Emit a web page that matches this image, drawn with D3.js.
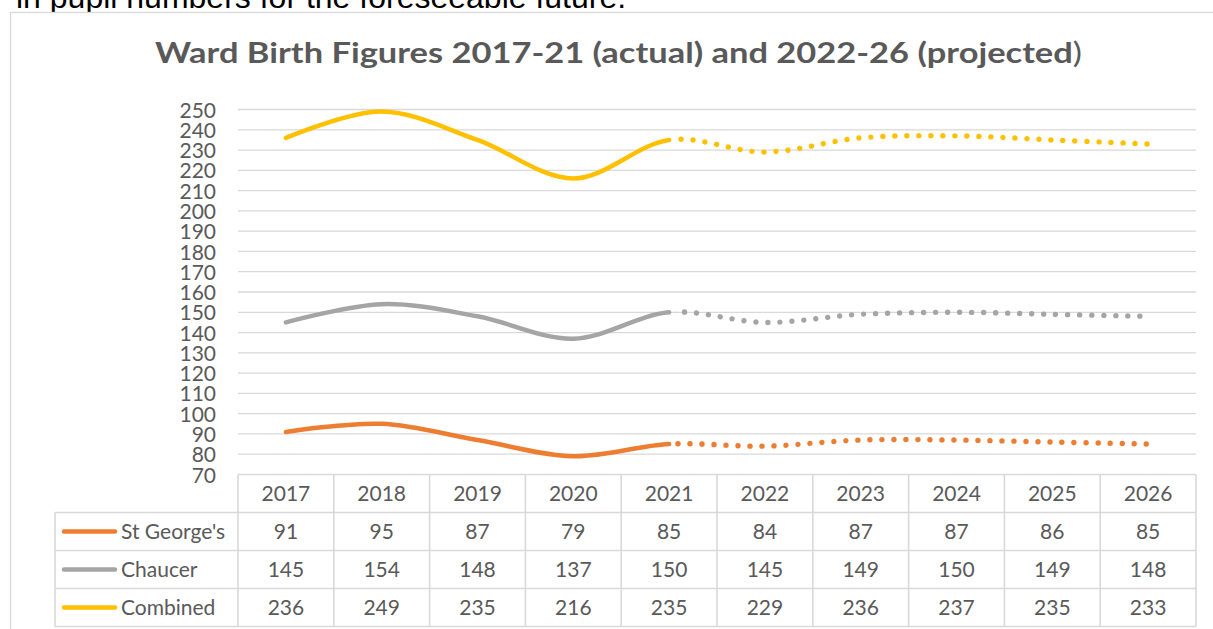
<!DOCTYPE html>
<html><head><meta charset="utf-8">
<script src="https://cdn.jsdelivr.net/npm/d3@7"></script>
<style>body{margin:0;background:#fff;overflow:hidden}</style>
</head><body>
<svg id="c" width="1213" height="629"></svg>
<script>
const years = [2017,2018,2019,2020,2021,2022,2023,2024,2025,2026];
const stGeorges = [91,95,87,79,85,84,87,87,86,85];
const chaucer = [145,154,148,137,150,145,149,150,149,148];
const combined = [236,249,235,216,235,229,236,237,235,233];
const seriesNames = ["St George's","Chaucer","Combined"];
const seriesColors = ["#ED7D31","#A5A5A5","#FFC000"];
const yTicks = d3.range(70,251,10);
const lastActualYear = 2021;
const series = [stGeorges, chaucer, combined];

const svg = d3.select("#c");
const font = "Lato, 'Open Sans', sans-serif";
const textCol = "#595959";
const gridCol = "#d9d9d9";

// top page text (cut)
svg.append("text").attr("x",16).attr("y",7.5).attr("font-family","'Liberation Sans', Arial, sans-serif")
  .attr("font-size",32).attr("fill","#000").text("in pupil numbers for the foreseeable future.");

// chart border
svg.append("rect").attr("x",10.5).attr("y",12.5).attr("width",1220).attr("height",640)
  .attr("fill","#fff").attr("stroke",gridCol).attr("stroke-width",1.3);

// title
const title = svg.append("text").attr("x",155).attr("y",63)
  .attr("font-family",font).attr("font-size",29).attr("fill",textCol)
  .attr("textLength",927).attr("lengthAdjust","spacingAndGlyphs");
title.append("tspan").attr("font-weight","bold").text("Ward Birth Figures 2017-21 (actual) and 2022-26 (projected");
title.append("tspan").text(")");

const x0 = 238, x1 = 1196;
const x = d3.scaleBand().domain(years).range([x0,x1]);
const y = d3.scaleLinear().domain([70,250]).range([474.5,109.5]);

// gridlines
svg.append("g").selectAll("line").data(yTicks.filter(t=>t>70)).join("line")
  .attr("x1",x0).attr("x2",x1).attr("y1",d=>y(d)).attr("y2",d=>y(d))
  .attr("stroke",gridCol).attr("stroke-width",1.3);

// y axis labels
const yAxis = d3.axisLeft(y).tickValues(yTicks).tickSize(0).tickPadding(0);
const ga = svg.append("g").attr("transform","translate(216,0)").call(yAxis);
ga.select(".domain").remove();
ga.selectAll("text").attr("font-family",font).attr("font-size",21).attr("fill",textCol).attr("dy","0.36em");

// lines
const cx = d=>x(d)+x.bandwidth()/2;
const line = d3.line().x((d,i)=>cx(years[i])).y(d=>y(d)).curve(d3.curveCatmullRom.alpha(0));
const splitX = cx(lastActualYear);
const defs = svg.append("defs");
defs.append("clipPath").attr("id","clipA").append("rect").attr("x",0).attr("y",0).attr("width",splitX).attr("height",629);
defs.append("clipPath").attr("id","clipP").append("rect").attr("x",splitX+6).attr("y",0).attr("width",1213).attr("height",629);

series.forEach((s,k)=>{
  svg.append("path").attr("d",line(s)).attr("fill","none").attr("stroke",seriesColors[k])
    .attr("stroke-width",4.5).attr("stroke-linecap","round").attr("clip-path","url(#clipA)");
  svg.append("path").attr("d",line(s)).attr("fill","none").attr("stroke",seriesColors[k])
    .attr("stroke-width",5.4).attr("stroke-linecap","round").attr("stroke-dasharray","0.01 12")
    .attr("clip-path","url(#clipP)");
});
series.forEach((s,k)=>{
  svg.append("circle").attr("cx",splitX).attr("cy",y(s[years.indexOf(lastActualYear)])).attr("r",2.25).attr("fill",seriesColors[k]);
});

// data table
const tTop = 474.5, rowH = 38;
const tb = svg.append("g");
const labelX0 = 55;
const tw = 1.6;
tb.append("line").attr("x1",x0).attr("x2",x1).attr("y1",tTop).attr("y2",tTop).attr("stroke",gridCol).attr("stroke-width",tw);
for(let r=1;r<=4;r++){
  tb.append("line").attr("x1",labelX0).attr("x2",x1).attr("y1",tTop+r*rowH).attr("y2",tTop+r*rowH).attr("stroke",gridCol).attr("stroke-width",tw);
}
const vx = years.map(d=>x(d)).concat([x1]);
vx.forEach(v=>tb.append("line").attr("x1",v).attr("x2",v).attr("y1",tTop).attr("y2",tTop+4*rowH).attr("stroke",gridCol).attr("stroke-width",tw));
tb.append("line").attr("x1",labelX0).attr("x2",labelX0).attr("y1",tTop+rowH).attr("y2",tTop+4*rowH).attr("stroke",gridCol).attr("stroke-width",tw);

tb.selectAll("text.h").data(years).join("text").attr("class","h")
  .attr("x",d=>cx(d)).attr("y",tTop+rowH/2).attr("dy","0.36em").attr("text-anchor","middle")
  .attr("font-family",font).attr("font-size",21).attr("fill",textCol).text(d=>d);
series.forEach((s,k)=>{
  const ry = tTop+(k+1)*rowH+rowH/2;
  tb.append("line").attr("x1",64).attr("x2",115).attr("y1",ry).attr("y2",ry)
    .attr("stroke",seriesColors[k]).attr("stroke-width",4.5).attr("stroke-linecap","round");
  tb.append("text").attr("x",121).attr("y",ry).attr("dy","0.36em").attr("font-family",font)
    .attr("font-size",21).attr("fill",textCol).text(seriesNames[k]);
  tb.selectAll("text.v"+k).data(s).join("text").attr("class","v"+k)
    .attr("x",(d,i)=>cx(years[i])).attr("y",ry).attr("dy","0.36em").attr("text-anchor","middle")
    .attr("font-family",font).attr("font-size",21).attr("fill",textCol).text(d=>d);
});
</script>
</body></html>
